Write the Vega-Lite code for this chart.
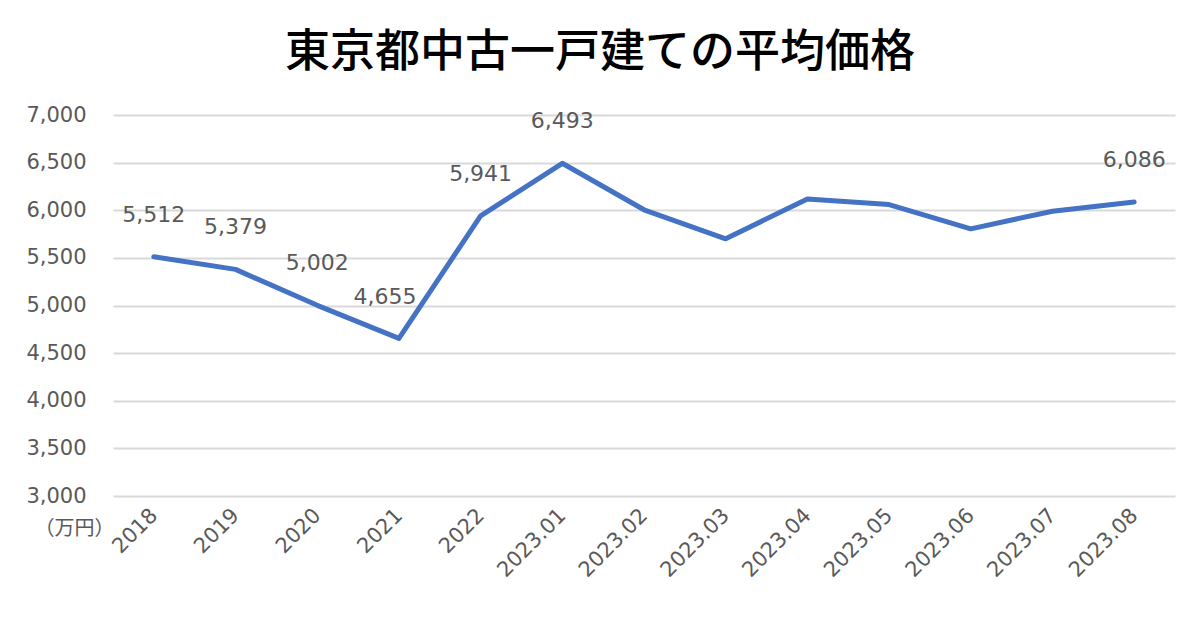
{
  "$schema": "https://vega.github.io/schema/vega-lite/v6.json",
  "autosize": "none",
  "width": 1062,
  "height": 381,
  "padding": {"left": 113, "top": 115, "right": 25, "bottom": 134},
  "background": "white",
  "title": {
    "text": "東京都中古一戸建ての平均価格",
    "font": "Noto Sans CJK JP",
    "fontSize": 45,
    "fontWeight": 500,
    "color": "#000000",
    "anchor": "middle",
    "dx": -44,
    "baseline": "bottom",
    "offset": -17
  },
  "data": {
    "values": [
      {"period": "2018", "price": 5512, "label": "5,512"},
      {"period": "2019", "price": 5379, "label": "5,379"},
      {"period": "2020", "price": 5002, "label": "5,002"},
      {"period": "2021", "price": 4655, "label": "4,655"},
      {"period": "2022", "price": 5941, "label": "5,941"},
      {"period": "2023.01", "price": 6493, "label": "6,493"},
      {"period": "2023.02", "price": 6005, "label": ""},
      {"period": "2023.03", "price": 5700, "label": ""},
      {"period": "2023.04", "price": 6119, "label": ""},
      {"period": "2023.05", "price": 6060, "label": ""},
      {"period": "2023.06", "price": 5805, "label": ""},
      {"period": "2023.07", "price": 5990, "label": ""},
      {"period": "2023.08", "price": 6086, "label": "6,086"}
    ]
  },
  "encoding": {
    "x": {
      "field": "period",
      "type": "ordinal",
      "sort": null,
      "scale": {"type": "point", "padding": 0.5},
      "axis": {
        "title": null,
        "labelAngle": -45,
        "labelAlign": "right",
        "labelBaseline": "middle",
        "labelFont": "DejaVu Sans",
        "labelFontSize": 21,
        "labelColor": "#595959",
        "labelPadding": 16,
        "ticks": false,
        "domain": false,
        "grid": false
      }
    },
    "y": {
      "field": "price",
      "type": "quantitative",
      "scale": {"domain": [3000, 7000], "nice": false, "zero": false},
      "axis": {
        "values": [3000, 3500, 4000, 4500, 5000, 5500, 6000, 6500, 7000],
        "format": ",.0f",
        "labelFont": "DejaVu Sans",
        "labelFontSize": 21,
        "labelColor": "#595959",
        "labelPadding": 27,
        "ticks": false,
        "domain": false,
        "grid": true,
        "gridColor": "#D9D9D9",
        "gridWidth": 1.8,
        "title": "（万円）",
        "titleAngle": 0,
        "titleFont": "Noto Sans CJK JP",
        "titleFontSize": 20,
        "titleFontWeight": "normal",
        "titleColor": "#595959",
        "titleAlign": "center",
        "titleBaseline": "middle",
        "titleX": -39,
        "titleY": 413
      }
    }
  },
  "layer": [
    {
      "mark": {"type": "line", "color": "#4472C4", "strokeWidth": 5, "strokeCap": "round", "strokeJoin": "round"}
    },
    {
      "transform": [{"filter": "datum.label != '' && datum.period != '2021'"}],
      "mark": {"type": "text", "font": "DejaVu Sans", "fontSize": 22, "color": "#595959", "dy": -42, "baseline": "middle", "align": "center"},
      "encoding": {"text": {"field": "label"}}
    },
    {
      "transform": [{"filter": "datum.period == '2021'"}],
      "mark": {"type": "text", "font": "DejaVu Sans", "fontSize": 22, "color": "#595959", "dy": -41, "dx": -14, "baseline": "middle", "align": "center"},
      "encoding": {"text": {"field": "label"}}
    }
  ],
  "config": {"view": {"stroke": null}}
}
